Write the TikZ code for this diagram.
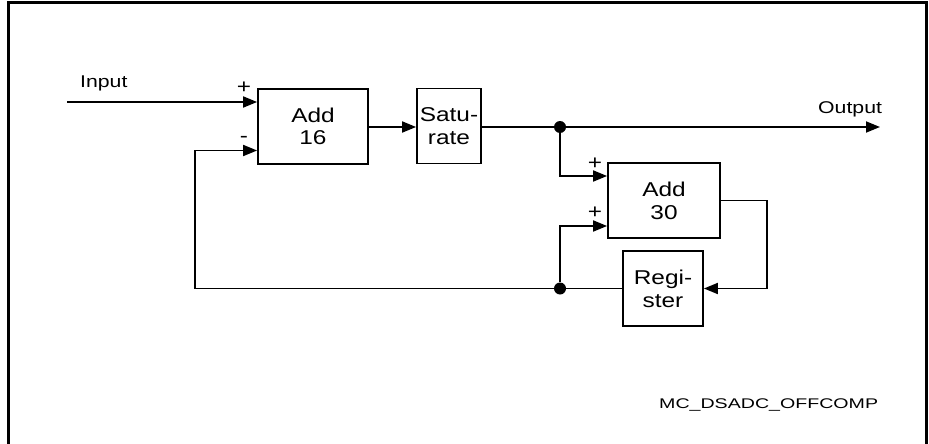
\documentclass[tikz,border=0pt]{standalone}
\usepackage{fontspec}
\usetikzlibrary{arrows.meta,calc}
\newfontfamily\boxfnt{Liberation Sans}[FakeStretch=1.22]
\newfontfamily\lblfnt{Liberation Sans}[FakeStretch=1.25]
\newfontfamily\tagfnt{Liberation Sans}[FakeStretch=1.4]
\tikzset{
  blk/.style={draw, line width=1.8pt, inner sep=0pt, align=center,
    minimum height=75pt, font={\boxfnt\fontsize{20}{22.7}\selectfont}},
  wire/.style={line width=1.8pt},
  arr/.style={wire, -{Triangle[length=14pt,width=11pt]}},
  lbl/.style={inner sep=0pt, anchor=base west, font={\lblfnt\fontsize{17}{20}\selectfont}},
  sgn/.style={inner sep=0pt, font={\boxfnt\fontsize{20}{22}\selectfont}},
  dot/.style={circle, fill, inner sep=0pt, minimum size=12pt}
}
\begin{document}
\begin{tikzpicture}[x=1pt,y=-1pt]
\useasboundingbox (0,0) rectangle (929,444);
% frame
\draw[line width=3pt] (8,446) -- (8,3) -- (926,3) -- (926,446);
% blocks
\node[blk, minimum width=110pt] (add16) at (313,126.5) {Add\\16};
\node[blk, minimum width=64pt] (sat) at (449,126) {Satu-\\rate};
\node[blk, minimum width=112pt] (add30) at (664,200.5) {Add\\30};
\node[blk, minimum width=80pt] (reg) at (663,288.5) {Regi-\\ster};
% junctions and corners
\node[dot] (j1) at (560,127) {};
\node[dot] (j2) at (560,288.5) {};
\coordinate (in) at (67,102);
\coordinate (out) at (880,127);
\coordinate (fbb) at (195,288.5);
\coordinate (fbt) at (195,150.5);
\coordinate (rc) at (767,250);
% connectors
\draw[arr] (in) -- (in -| add16.west);
\draw[arr] (add16.east |- j1) -- (sat.west |- j1);
\draw[wire] (sat.east |- j1) -- (j1);
\draw[arr] (j1) -- (out);
\draw[arr] (j1) |- ([yshift=24.5pt]add30.west);
\draw[arr] (j2) |- ([yshift=-25.5pt]add30.west);
\draw[arr] (add30.east) -| (rc) |- (reg.east);
\draw[wire] (reg.west) -- (j2);
\draw[arr] (j2) -- (fbb) -- (fbt) -- (fbt -| add16.west);
% labels
\node[lbl] (inlbl) at (80,88) {Input};
\node[lbl] (outlbl) at (818,113) {Output};
\node[sgn] (s1) at (244,88) {+};
\node[sgn] (s2) at (244,139) {-};
\node[sgn] (s3) at (595,164) {+};
\node[sgn] (s4) at (595,213) {+};
\node[inner sep=0pt, anchor=base west, font={\tagfnt\fontsize{14}{16}\selectfont}] (tag) at (659,408) {MC\_DSADC\_OFFCOMP};
\end{tikzpicture}
\end{document}
